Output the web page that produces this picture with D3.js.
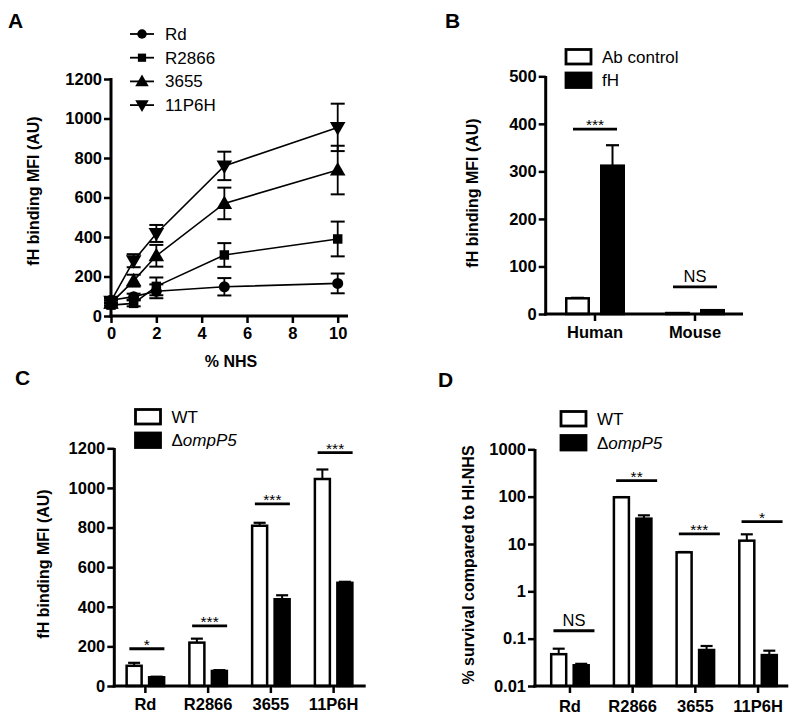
<!DOCTYPE html>
<html><head><meta charset="utf-8">
<script src="https://cdn.jsdelivr.net/npm/d3@7"></script>
<style>body{margin:0;background:#fff}svg{display:block}text{font-family:"Liberation Sans",Arial,sans-serif;fill:#000}</style>
</head><body>
<svg id="c" width="800" height="720"></svg>
<script>
// ---- Panel A data ----
const nhs = [0, 1, 2, 5, 10];
const seriesA = ["Rd", "R2866", "3655", "11P6H"];
const rdA = [80, 98, 125, 148, 165];
const rdAErr = [15, 15, 35, 44, 50];
const r2866A = [55, 64, 150, 309, 390];
const r2866AErr = [12, 15, 45, 60, 88];
const s3655A = [65, 179, 305, 570, 739];
const s3655AErr = [12, 30, 55, 80, 123];
const s11p6hA = [75, 280, 418, 760, 955];
const s11p6hAErr = [12, 33, 43, 72, 120];
const ticksAx = [0, 2, 4, 6, 8, 10];
const ticksAy = [0, 200, 400, 600, 800, 1000, 1200];

// ---- Panel B data ----
const hostB = ["Human", "Mouse"];
const seriesB = ["Ab control", "fH"];
const abControlB = [33, 2];
const abControlBErr = [1, 0];
const fhB = [312, 8];
const fhBErr = [43, 0];
const sigBLabel = ["***", "NS"];
const sigBY = [389, 57];
const ticksBy = [0, 100, 200, 300, 400, 500];

// ---- Panel C data ----
const strains = ["Rd", "R2866", "3655", "11P6H"];
const seriesCD = ["WT", "ΔompP5"];
const wtC = [102, 219, 809, 1045];
const wtCErr = [15, 20, 15, 48];
const koC = [44, 76, 438, 521];
const koCErr = [3, 4, 20, 5];
const sigCLabel = ["*", "***", "***", "***"];
const sigCY = [188, 304, 919, 1178];
const ticksCy = [0, 200, 400, 600, 800, 1000, 1200];

// ---- Panel D data ----
const wtD = [0.047, 97, 6.67, 11.75];
const wtDErr = [0.0144, 1, 0.1, 4.25];
const koD = [0.0274, 34.3, 0.0576, 0.045];
const koDErr = [0.002, 6, 0.0124, 0.0107];
const sigDLabel = ["NS", "**", "***", "*"];
const sigDY = [0.147, 217, 16.3, 29.6];
const ticksDy = [0.01, 0.1, 1, 10, 100, 1000];
const ticksDLabel = ["0.01", "0.1", "1", "10", "100", "1000"];

const svg = d3.select("#c");
const TICK_FONT = 16.5;

function styleAxis(g) {
  g.selectAll(".domain").remove();
  g.selectAll(".tick line").attr("stroke", "#000").attr("stroke-width", 2.5);
  g.selectAll(".tick text").attr("font-size", TICK_FONT).attr("font-weight", "bold")
    .attr("font-family", '"Liberation Sans",Arial,sans-serif').attr("fill", "#000");
}
function axisLines(x0, x1, y0, y1) {
  svg.append("line").attr("x1", x0).attr("x2", x0).attr("y1", y0).attr("y2", y1 + 1.5)
    .attr("stroke", "#000").attr("stroke-width", 3);
  svg.append("line").attr("x1", x0 - 1.5).attr("x2", x1).attr("y1", y1).attr("y2", y1)
    .attr("stroke", "#000").attr("stroke-width", 3);
}
function panelLabel(t, x, y) {
  svg.append("text").attr("x", x).attr("y", y).attr("font-size", 21).attr("font-weight", "bold").text(t);
}
function yTitle(t, x, y) {
  svg.append("text").attr("transform", `translate(${x},${y}) rotate(-90)`).attr("text-anchor", "middle")
    .attr("dominant-baseline", "central").attr("font-size", 16).attr("font-weight", "bold").text(t);
}
function legendText(sel, t) {
  if (t.startsWith("Δ")) {
    sel.append("tspan").text("Δ");
    sel.append("tspan").attr("font-style", "italic").text(t.slice(1));
  } else sel.text(t);
}
function boxLegend(x, y, names, gap) {
  names.forEach((n, i) => {
    const yy = y + i * gap;
    svg.append("rect").attr("x", x).attr("y", yy).attr("width", 25).attr("height", 14.5)
      .attr("fill", i === 0 ? "#fff" : "#000").attr("stroke", "#000").attr("stroke-width", 2.8);
    legendText(svg.append("text").attr("x", x + 36).attr("y", yy + 13).attr("font-size", 17), n);
  });
}
function sigMark(cx, half, y, label) {
  svg.append("line").attr("x1", cx - half).attr("x2", cx + half).attr("y1", y).attr("y2", y)
    .attr("stroke", "#000").attr("stroke-width", 2.8);
  const isStar = label.indexOf("*") >= 0;
  svg.append("text").attr("x", cx).attr("y", isStar ? y + 1 : y - 5).attr("text-anchor", "middle")
    .attr("font-size", isStar ? 15.5 : 16.5).text(label);
}
function upErr(cx, yTop, yVal, cap) {
  svg.append("line").attr("x1", cx).attr("x2", cx).attr("y1", yVal).attr("y2", yTop)
    .attr("stroke", "#000").attr("stroke-width", 2);
  svg.append("line").attr("x1", cx - cap / 2).attr("x2", cx + cap / 2).attr("y1", yTop).attr("y2", yTop)
    .attr("stroke", "#000").attr("stroke-width", 2.2);
}

// ================= Panel A =================
{
  const x = d3.scaleLinear().domain([0, 10]).range([111, 337.7]);
  const y = d3.scaleLinear().domain([0, 1200]).range([316, 79]);
  svg.append("g").attr("transform", "translate(0,316)")
    .call(d3.axisBottom(x).tickValues(ticksAx).tickFormat(d3.format("d")).tickSize(7).tickPadding(4)).call(styleAxis);
  svg.append("g").attr("transform", "translate(111,0)")
    .call(d3.axisLeft(y).tickValues(ticksAy).tickFormat(d3.format("d")).tickSize(7).tickPadding(2)).call(styleAxis);
  axisLines(111, 348, 78, 316);
  const vals = [rdA, r2866A, s3655A, s11p6hA];
  const errs = [rdAErr, r2866AErr, s3655AErr, s11p6hAErr];
  const syms = [d3.symbolCircle, d3.symbolSquare, d3.symbolTriangle, d3.symbolTriangle];
  const sizes = [95, 90, 105, 105];
  const line = d3.line().x((d, i) => x(nhs[i])).y(d => y(d));
  vals.forEach((v, s) => {
    svg.append("path").attr("d", line(v)).attr("fill", "none").attr("stroke", "#000").attr("stroke-width", 1.6);
    v.forEach((d, i) => {
      const cx = x(nhs[i]);
      svg.append("line").attr("x1", cx).attr("x2", cx).attr("y1", y(d - errs[s][i])).attr("y2", y(d + errs[s][i]))
        .attr("stroke", "#000").attr("stroke-width", 1.8);
      [d - errs[s][i], d + errs[s][i]].forEach(e => svg.append("line").attr("x1", cx - 7).attr("x2", cx + 7)
        .attr("y1", y(e)).attr("y2", y(e)).attr("stroke", "#000").attr("stroke-width", 2));
    });
    v.forEach((d, i) => {
      svg.append("path").attr("d", d3.symbol().type(syms[s]).size(sizes[s])())
        .attr("transform", `translate(${x(nhs[i])},${y(d) + (s === 2 ? 1 : s === 3 ? -1 : 0)})${s === 3 ? " rotate(180)" : ""}`)
        .attr("fill", "#000");
    });
  });
  seriesA.forEach((n, s) => {
    const yy = 34 + s * 23.7;
    svg.append("line").attr("x1", 130).attr("x2", 154).attr("y1", yy).attr("y2", yy).attr("stroke", "#000").attr("stroke-width", 1.8);
    svg.append("path").attr("d", d3.symbol().type(syms[s]).size(sizes[s] * 0.75)())
      .attr("transform", `translate(142,${yy + (s === 2 ? 1 : s === 3 ? -1 : 0)})${s === 3 ? " rotate(180)" : ""}`).attr("fill", "#000");
    svg.append("text").attr("x", 165).attr("y", yy + 6).attr("font-size", 17).text(n);
  });
  svg.append("text").attr("x", 231).attr("y", 367).attr("text-anchor", "middle").attr("font-size", 16)
    .attr("font-weight", "bold").text("% NHS");
  yTitle("fH binding MFI (AU)", 33, 191);
  panelLabel("A", 8, 28);
}

// ================= Panel B =================
{
  const x = d3.scaleBand().domain(hostB).range([545, 745]);
  const xi = d3.scaleBand().domain(seriesB).range([-30, 30]).paddingInner(0.286);
  const y = d3.scaleLinear().domain([0, 500]).range([314, 76.3]);
  svg.append("g").attr("transform", "translate(0,314)")
    .call(d3.axisBottom(x).tickSize(7).tickPadding(5)).call(styleAxis);
  svg.append("g").attr("transform", "translate(545.7,0)")
    .call(d3.axisLeft(y).tickValues(ticksBy).tickFormat(d3.format("d")).tickSize(7).tickPadding(2)).call(styleAxis);
  const vals = [abControlB, fhB], errs = [abControlBErr, fhBErr];
  vals.forEach((v, s) => v.forEach((d, i) => {
    const bx = x(hostB[i]) + x.bandwidth() / 2 + xi(seriesB[s]);
    if (errs[s][i] > 0) upErr(bx + xi.bandwidth() / 2, y(d + errs[s][i]), y(d), 13);
    svg.append("rect").attr("x", bx + 1.25).attr("y", y(d)).attr("width", xi.bandwidth() - 2.5)
      .attr("height", Math.max(0, y(0) - y(d))).attr("fill", s === 0 ? "#fff" : "#000")
      .attr("stroke", "#000").attr("stroke-width", 2.5);
  }));
  axisLines(545.7, 743, 76, 314);
  hostB.forEach((h, i) => sigMark(x(h) + x.bandwidth() / 2, 22, y(sigBY[i]), sigBLabel[i]));
  boxLegend(566, 49.5, seriesB, 23.5);
  yTitle("fH binding MFI (AU)", 472.7, 193);
  panelLabel("B", 445, 28);
}

// ================= Panel C =================
{
  const x = d3.scaleBand().domain(strains).range([114, 365]);
  const xi = d3.scaleBand().domain(seriesCD).range([-20, 20]).paddingInner(0.222);
  const y = d3.scaleLinear().domain([0, 1200]).range([686, 448.3]);
  svg.append("g").attr("transform", "translate(0,686)")
    .call(d3.axisBottom(x).tickSize(7).tickPadding(5)).call(styleAxis);
  svg.append("g").attr("transform", "translate(114.3,0)")
    .call(d3.axisLeft(y).tickValues(ticksCy).tickFormat(d3.format("d")).tickSize(7).tickPadding(2)).call(styleAxis);
  const vals = [wtC, koC], errs = [wtCErr, koCErr];
  vals.forEach((v, s) => v.forEach((d, i) => {
    const bx = x(strains[i]) + x.bandwidth() / 2 + xi(seriesCD[s]);
    upErr(bx + xi.bandwidth() / 2, y(d + errs[s][i]), y(d), 12);
    svg.append("rect").attr("x", bx + 1.25).attr("y", y(d)).attr("width", xi.bandwidth() - 2.5)
      .attr("height", y(0) - y(d)).attr("fill", s === 0 ? "#fff" : "#000")
      .attr("stroke", "#000").attr("stroke-width", 2.5);
  }));
  axisLines(114.3, 365.7, 448, 686);
  strains.forEach((h, i) => sigMark(x(h) + x.bandwidth() / 2 + 1.5, 17.5, y(sigCY[i]), sigCLabel[i]));
  boxLegend(135.5, 409.5, seriesCD, 23.5);
  yTitle("fH binding MFI (AU)", 43, 564);
  panelLabel("C", 15, 385);
}

// ================= Panel D =================
{
  const x = d3.scaleBand().domain(strains).range([538.6, 789.4]);
  const xi = d3.scaleBand().domain(seriesCD).range([-20, 20]).paddingInner(0.222);
  const y = d3.scaleLog().domain([0.01, 1000]).range([686, 449.3]);
  svg.append("g").attr("transform", "translate(0,686)")
    .call(d3.axisBottom(x).tickSize(7).tickPadding(7)).call(styleAxis);
  svg.append("g").attr("transform", "translate(535,0)")
    .call(d3.axisLeft(y).tickValues(ticksDy).tickFormat((d, i) => ticksDLabel[i]).tickSize(7).tickPadding(2)).call(styleAxis);
  const vals = [wtD, koD], errs = [wtDErr, koDErr];
  vals.forEach((v, s) => v.forEach((d, i) => {
    const bx = x(strains[i]) + x.bandwidth() / 2 + xi(seriesCD[s]);
    upErr(bx + xi.bandwidth() / 2, y(d + errs[s][i]), y(d), 12);
    svg.append("rect").attr("x", bx + 1.25).attr("y", y(d)).attr("width", xi.bandwidth() - 2.5)
      .attr("height", y(0.01) - y(d)).attr("fill", s === 0 ? "#fff" : "#000")
      .attr("stroke", "#000").attr("stroke-width", 2.5);
  }));
  axisLines(535, 788.3, 449, 686);
  strains.forEach((h, i) => sigMark(x(h) + x.bandwidth() / 2 + 4, 20.5, y(sigDY[i]), sigDLabel[i]));
  boxLegend(561, 411.5, seriesCD, 24);
  yTitle("% survival compared to HI-NHS", 468, 565);
  panelLabel("D", 438, 387);
}
</script>
</body></html>
